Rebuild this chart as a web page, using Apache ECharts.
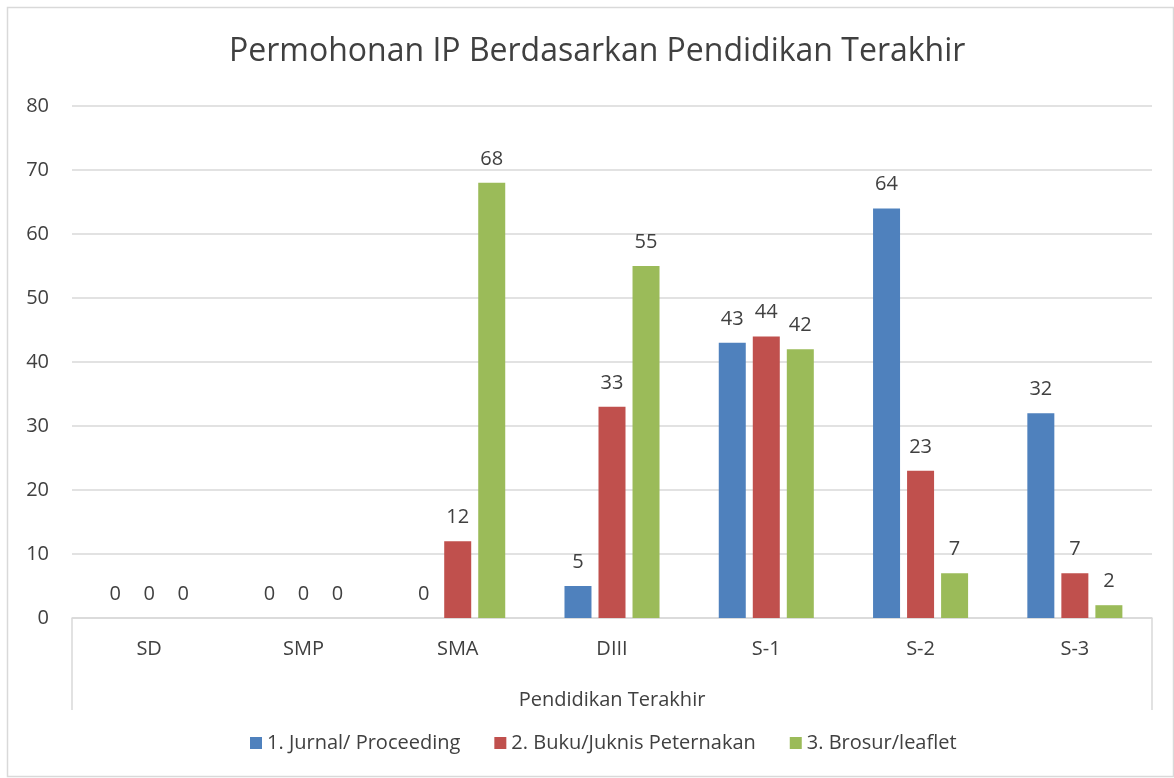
<!DOCTYPE html>
<html>
<head>
<meta charset="utf-8">
<script src="https://cdn.jsdelivr.net/npm/echarts@6/dist/echarts.min.js"></script>
<style>
    html, body { margin: 0; padding: 0; background: #fff; }
    #chart { width: 1174px; height: 778px; }
</style>
</head>
<body>
<div id="chart"></div>
<script>
    // data
    const categories = ['SD', 'SMP', 'SMA', 'DIII', 'S-1', 'S-2', 'S-3'];
    const seriesNames = ['1. Jurnal/ Proceeding', '2. Buku/Juknis Peternakan', '3. Brosur/leaflet'];
    const jurnal = [0, 0, 0, 5, 43, 64, 32];
    const buku = [0, 0, 12, 33, 44, 23, 7];
    const brosur = [0, 0, 68, 55, 42, 7, 2];
    const yTicks = [0, 10, 20, 30, 40, 50, 60, 70, 80];

    const colors = ['#4F81BD', '#C0504D', '#9BBB59'];
    const font = 'Open Sans';
    const textColor = '#404040';
    const lineColor = '#d9d9d9';

    const gridLeft = 72, gridRight = 22, gridTop = 106, gridBottom = 160;
    const W = 1174, H = 778;
    const axisY = H - gridBottom;

    const chart = echarts.init(document.getElementById('chart'));

    function bar(name, data, color) {
        return {
            name: name,
            type: 'bar',
            data: data,
            barWidth: '17.5%',
            barGap: '26%',
            itemStyle: { color: color },
            label: {
                show: true,
                position: 'top',
                distance: 14,
                color: textColor,
                fontFamily: font,
                fontSize: 20
            }
        }
    }

    chart.setOption({
        animation: false,
        textStyle: { fontFamily: font },
        title: {
            text: 'Permohonan IP Berdasarkan Pendidikan Terakhir',
            left: 224,
            top: 31,
            textStyle: { fontFamily: font, fontSize: 32, fontWeight: 'normal', color: textColor }
        },
        legend: {
            data: seriesNames,
            bottom: 20,
            left: 245,
            itemWidth: 12,
            itemHeight: 12,
            itemGap: 34,
            icon: 'rect',
            textStyle: { fontFamily: font, fontSize: 20, color: textColor }
        },
        grid: { left: gridLeft, right: gridRight, top: gridTop, bottom: gridBottom },
        xAxis: {
            type: 'category',
            data: categories,
            name: 'Pendidikan Terakhir',
            nameLocation: 'middle',
            nameGap: 72,
            nameTextStyle: { fontFamily: font, fontSize: 20, color: textColor },
            axisLine: { lineStyle: { color: lineColor, width: 1.5 } },
            axisTick: { show: false },
            axisLabel: { margin: 21, fontFamily: font, fontSize: 20, color: textColor }
        },
        yAxis: {
            type: 'value',
            min: yTicks[0],
            max: yTicks[yTicks.length - 1],
            interval: 10,
            axisLine: { show: false },
            axisTick: { show: false },
            splitLine: { lineStyle: { color: lineColor, width: 1.5 } },
            axisLabel: { margin: 23, fontFamily: font, fontSize: 20, color: textColor }
        },
        series: [
            bar(seriesNames[0], jurnal, colors[0]),
            bar(seriesNames[1], buku, colors[1]),
            bar(seriesNames[2], brosur, colors[2])
        ],
        graphic: [
            // outer chart border
            {
                type: 'rect',
                shape: { x: 7.5, y: 7.5, width: W - 8, height: H - 9 },
                style: { fill: null, stroke: lineColor, lineWidth: 1.5 },
                silent: true
            },
            // category axis box sides (Excel style)
            {
                type: 'line',
                shape: { x1: gridLeft, y1: axisY, x2: gridLeft, y2: axisY + 92 },
                style: { stroke: lineColor, lineWidth: 1.5 },
                silent: true
            },
            {
                type: 'line',
                shape: { x1: W - gridRight, y1: axisY, x2: W - gridRight, y2: axisY + 92 },
                style: { stroke: lineColor, lineWidth: 1.5 },
                silent: true
            }
        ]
    });
</script>
</body>
</html>
